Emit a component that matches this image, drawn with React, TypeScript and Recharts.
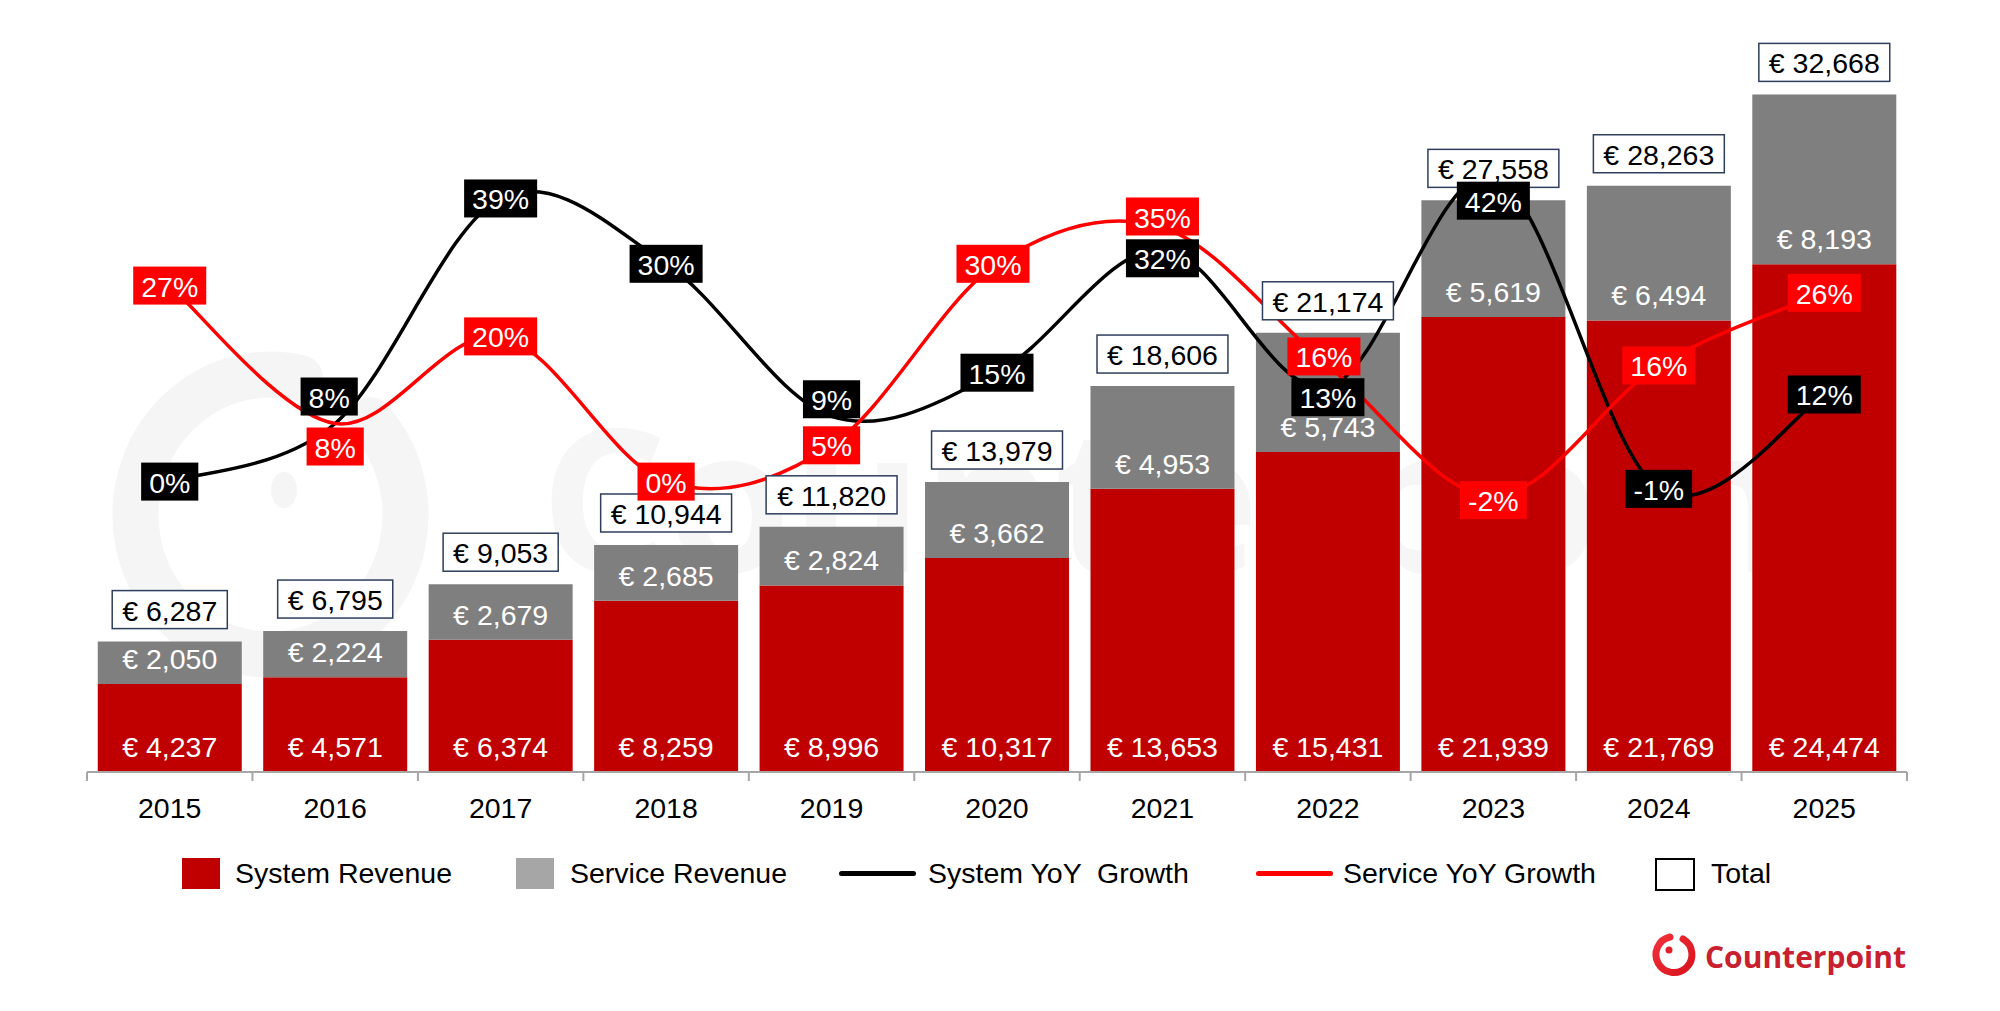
import React from 'react';
import { ComposedChart, Bar, Line, XAxis, YAxis, LabelList, Legend } from 'recharts';

// ---------- data ----------
const years = ['2015', '2016', '2017', '2018', '2019', '2020', '2021', '2022', '2023', '2024', '2025'];
const systemRevenue = [4237, 4571, 6374, 8259, 8996, 10317, 13653, 15431, 21939, 21769, 24474];
const serviceRevenue = [2050, 2224, 2679, 2685, 2824, 3662, 4953, 5743, 5619, 6494, 8193];
const totalRevenue = [6287, 6795, 9053, 10944, 11820, 13979, 18606, 21174, 27558, 28263, 32668];
const systemGrowth = [0, 8, 39, 30, 9, 15, 32, 13, 42, -1, 12];
const serviceGrowth = [27, 8, 20, 0, 5, 30, 35, 16, -2, 16, 26];

// label nudges (style only, px)
const systemLabelShiftY = [0, -27, 0, 0, -17, 0, 9, 10, 24, 0, 0];
const systemLabelShiftX = [0, -6, 0, 0, 0, 0, 0, 0, 0, 0, 0];
const serviceLabelShiftY = [0, 23, 0, 0, 0, 0, -11, -9, 4, 0, 0];
const serviceLabelShiftX = [0, 0, 0, 0, 0, -4, 0, -4, 0, 0, 0];

const data = years.map((year, i) => ({
  year,
  system: systemRevenue[i],
  service: serviceRevenue[i],
  total: totalRevenue[i],
  systemYoY: systemGrowth[i],
  serviceYoY: serviceGrowth[i],
}));

// ---------- layout constants ----------
const W = 2000;
const H = 1011;
const PLOT_LEFT = 87;
const PLOT_RIGHT = 1907;
const PLOT_TOP = 46;
const BASE_Y = 772;
const X_AXIS_H = 60;
const BAND = (PLOT_RIGHT - PLOT_LEFT) / years.length;
const FONT = "Arial, 'Liberation Sans', sans-serif";
const FS = 28.5;

const fmtEuro = (v: number) => `€ ${v.toLocaleString('en-US')}`;
const textWidth = (s: string, fs: number) =>
  s.split('').reduce((acc, c) => acc + (/[0-9€]/.test(c) ? 0.556 : c === '%' ? 0.889 : c === '-' ? 0.333 : 0.278), 0) * fs;

// Excel-like smoothed line (cardinal / Catmull-Rom bezier)
const excelSmooth = (context: any) => {
  let pts: number[][] = [];
  return {
    areaStart() {},
    areaEnd() {},
    lineStart() {
      pts = [];
    },
    point(x: number, y: number) {
      pts.push([+x, +y]);
    },
    lineEnd() {
      const n = pts.length;
      if (!n) return;
      context.moveTo(pts[0][0], pts[0][1]);
      for (let i = 0; i < n - 1; i++) {
        const p0 = pts[Math.max(i - 1, 0)];
        const p1 = pts[i];
        const p2 = pts[i + 1];
        const p3 = pts[Math.min(i + 2, n - 1)];
        context.bezierCurveTo(
          p1[0] + (p2[0] - p0[0]) / 6,
          p1[1] + (p2[1] - p0[1]) / 6,
          p2[0] - (p3[0] - p1[0]) / 6,
          p2[1] - (p3[1] - p1[1]) / 6,
          p2[0],
          p2[1]
        );
      }
    },
  };
};

// ---------- custom renderers ----------
const InsideBottomLabel = (props: any) => {
  const { x, y, width, height, value } = props;
  return (
    <text
      x={x + width / 2}
      y={y + height - 25}
      textAnchor="middle"
      dominantBaseline="central"
      fill="#FFFFFF"
      fontSize={FS}
      fontFamily={FONT}
    >
      {fmtEuro(value)}
    </text>
  );
};

const TotalLabel = (props: any) => {
  const { x, y, width, value } = props;
  const txt = fmtEuro(value);
  const bw = textWidth(txt, FS) + 20;
  const bh = 38;
  const cx = x + width / 2;
  const cy = y - 32;
  return (
    <g>
      <rect x={cx - bw / 2} y={cy - bh / 2} width={bw} height={bh} fill="#FFFFFF" stroke="#2F3E5C" strokeWidth={1.5} />
      <text x={cx} y={cy + 1} textAnchor="middle" dominantBaseline="central" fill="#000000" fontSize={FS} fontFamily={FONT}>
        {txt}
      </text>
    </g>
  );
};

const makePctLabel = (bg: string, sx: number[], sy: number[]) => (props: any) => {
  const { x, y, value, index } = props;
  const txt = `${value}%`;
  const bw = textWidth(txt, FS) + 16;
  const bh = 38;
  const cx = x + (sx[index] || 0);
  const cy = y + (sy[index] || 0);
  return (
    <g>
      <rect x={cx - bw / 2} y={cy - bh / 2} width={bw} height={bh} fill={bg} />
      <text x={cx} y={cy + 1} textAnchor="middle" dominantBaseline="central" fill="#FFFFFF" fontSize={FS} fontFamily={FONT}>
        {txt}
      </text>
    </g>
  );
};

const SystemPctLabel = makePctLabel('#000000', systemLabelShiftX, systemLabelShiftY);
const ServicePctLabel = makePctLabel('#FF0000', serviceLabelShiftX, serviceLabelShiftY);

const XTick = (props: any) => {
  const { x, payload, index } = props;
  const left = x - BAND / 2;
  const right = x + BAND / 2;
  return (
    <g>
      <line x1={left} y1={BASE_Y} x2={left} y2={BASE_Y + 9} stroke="#A6A6A6" strokeWidth={2} />
      {index === years.length - 1 && (
        <line x1={right} y1={BASE_Y} x2={right} y2={BASE_Y + 9} stroke="#A6A6A6" strokeWidth={2} />
      )}
      <text x={x} y={BASE_Y + 36} textAnchor="middle" dominantBaseline="central" fill="#000000" fontSize={FS} fontFamily={FONT}>
        {payload.value}
      </text>
    </g>
  );
};

const legendItems = [
  { label: 'System Revenue', kind: 'box', color: '#C00000', left: 182, textLeft: 235 },
  { label: 'Service Revenue', kind: 'box', color: '#A6A6A6', left: 516, textLeft: 570 },
  { label: 'System YoY  Growth', kind: 'line', color: '#000000', left: 839, textLeft: 928 },
  { label: 'Service YoY Growth', kind: 'line', color: '#FF0000', left: 1256, textLeft: 1343 },
  { label: 'Total', kind: 'hollow', color: '#000000', left: 1655, textLeft: 1711 },
];

const LegendContent = () => (
  <div style={{ position: 'relative', width: W, height: 40, fontFamily: FONT, fontSize: FS, color: '#000' }}>
    {legendItems.map((it) => (
      <React.Fragment key={it.label}>
        {it.kind === 'box' && (
          <div style={{ position: 'absolute', left: it.left, top: 5, width: 38, height: 31, background: it.color }} />
        )}
        {it.kind === 'hollow' && (
          <div
            style={{ position: 'absolute', left: it.left, top: 5, width: 36, height: 29, border: '2px solid #000', background: '#fff' }}
          />
        )}
        {it.kind === 'line' && (
          <div
            style={{ position: 'absolute', left: it.left, top: 18, width: 77, height: 5, borderRadius: 3, background: it.color }}
          />
        )}
        <div style={{ position: 'absolute', left: it.textLeft, top: 4, lineHeight: '32px', whiteSpace: 'pre' }}>{it.label}</div>
      </React.Fragment>
    ))}
  </div>
);

const Watermark = () => (
  <svg width={W} height={H} style={{ position: 'absolute', left: 0, top: 0 }}>
    <path d="M 370 420 A 135 140 0 1 1 300 378" fill="none" stroke="#F5F5F5" strokeWidth={46} strokeLinecap="round" />
    <ellipse cx={284} cy={490} rx={13} ry={18} fill="#F5F5F5" />
    <text
      x={540}
      y={494}
      dominantBaseline="central"
      fill="#F6F6F6"
      fontSize={200}
      fontWeight={700}
      fontFamily="'Open Sans', sans-serif"
    >
      Counterpoint
    </text>
  </svg>
);

const Logo = () => (
  <svg width={W} height={H} style={{ position: 'absolute', left: 0, top: 0, pointerEvents: 'none' }}>
    <defs>
      <linearGradient id="lg" x1="0" y1="0" x2="1" y2="1">
        <stop offset="0" stopColor="#F0303A" />
        <stop offset="1" stopColor="#D9141E" />
      </linearGradient>
    </defs>
    <path
      d="M 1683 939 A 18 18 0 1 1 1670 937"
      fill="none"
      stroke="url(#lg)"
      strokeWidth={7}
      strokeLinecap="round"
    />
    <circle cx={1669} cy={950} r={3.5} fill="#E3202A" />
    <text
      x={1705}
      y={956}
      dominantBaseline="central"
      fill="#C8202F"
      fontSize={30}
      fontWeight={700}
      fontFamily="'Open Sans', sans-serif"
    >
      Counterpoint
    </text>
  </svg>
);

export default function App() {
  return (
    <div style={{ position: 'fixed', left: 0, top: 0, width: W, height: H, background: '#FFFFFF' }}>
      <Watermark />
      <div style={{ position: 'absolute', left: 0, top: 0 }}>
        <ComposedChart
          width={W}
          height={H}
          data={data}
          margin={{ top: PLOT_TOP, right: W - PLOT_RIGHT, left: PLOT_LEFT, bottom: H - BASE_Y - X_AXIS_H }}
          barCategoryGap="6.5%"
        >
          <XAxis
            dataKey="year"
            height={X_AXIS_H}
            interval={0}
            tickLine={false}
            axisLine={{ stroke: '#A6A6A6', strokeWidth: 2 }}
            tick={<XTick />}
          />
          <YAxis yAxisId="left" hide domain={[0, 35000]} />
          <YAxis yAxisId="right" orientation="right" hide domain={[-40, 60]} />
          <Bar yAxisId="left" dataKey="system" stackId="rev" fill="#C00000" isAnimationActive={false}>
            <LabelList dataKey="system" content={InsideBottomLabel} />
          </Bar>
          <Bar yAxisId="left" dataKey="service" stackId="rev" fill="#7F7F7F" isAnimationActive={false}>
            <LabelList dataKey="service" content={InsideBottomLabel} />
            <LabelList dataKey="total" content={TotalLabel} />
          </Bar>
          <Line
            yAxisId="right"
            dataKey="systemYoY"
            type={excelSmooth as any}
            stroke="#000000"
            strokeWidth={3.5}
            dot={false}
            isAnimationActive={false}
          >
            <LabelList dataKey="systemYoY" content={SystemPctLabel} />
          </Line>
          <Line
            yAxisId="right"
            dataKey="serviceYoY"
            type={excelSmooth as any}
            stroke="#FF0000"
            strokeWidth={3.5}
            dot={false}
            isAnimationActive={false}
          >
            <LabelList dataKey="serviceYoY" content={ServicePctLabel} />
          </Line>
          <Legend
            layout="horizontal"
            verticalAlign="middle"
            align="center"
            content={<LegendContent />}
            wrapperStyle={{ left: 0, top: 853, width: W, height: 40 }}
          />
        </ComposedChart>
      </div>
      <Logo />
    </div>
  );
}
